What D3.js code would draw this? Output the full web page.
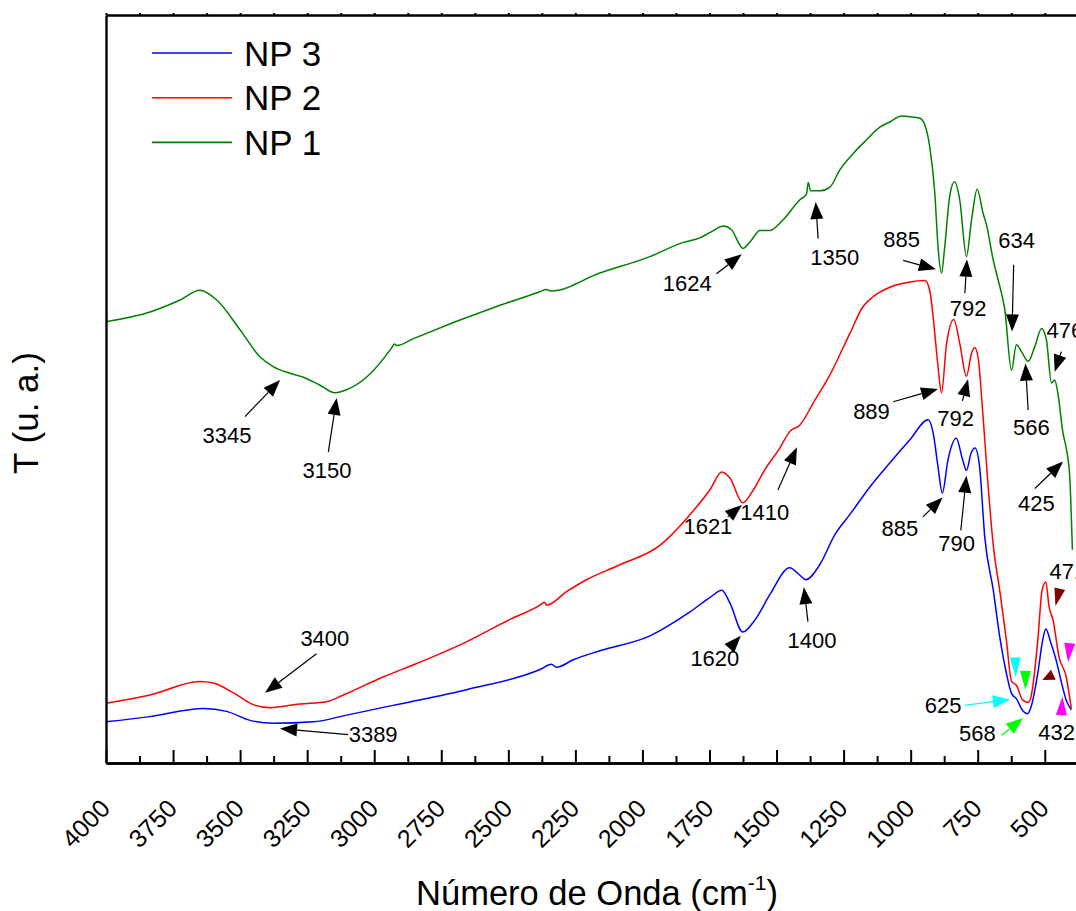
<!DOCTYPE html>
<html>
<head>
<meta charset="utf-8">
<script src="https://cdn.jsdelivr.net/npm/d3@7"></script>
<style>
  body { margin: 0; background: #fff; }
  svg { display: block; font-family: "Liberation Sans", Arial, sans-serif; }
</style>
</head>
<body>
<svg id="chart"></svg>
<script>
// FTIR spectra, [wavenumber cm-1, T (arbitrary units)]
const np1 = [[4000,59.0],[3836,60.3],[3724,61.9],[3650,63.2],[3587,61.9],[3500,57.9],[3426,54.3],[3377,53.0],[3314,52.1],[3266,51.6],[3202,50.5],[3146,49.5],[3103,49.9],[3028,51.6],[2935,55.5],[2925,56.0],[2915,55.8],[2856,56.7],[2531,61.2],[2382,63.0],[2360,63.3],[2340,63.1],[2159,65.5],[1972,67.7],[1848,69.6],[1786,70.2],[1749,70.9],[1697,71.8],[1668,71.3],[1625,68.8],[1594,69.9],[1562,71.2],[1525,71.2],[1476,72.6],[1413,75.3],[1388,76.1],[1382,77.6],[1373,76.5],[1339,76.5],[1301,77.0],[1264,79.3],[1214,81.5],[1165,83.3],[1115,85.0],[1078,85.7],[1034,86.5],[1003,86.4],[966,86.2],[947,85.3],[929,82.4],[910,76.2],[898,69.0],[885,65.5],[873,69.0],[854,75.9],[836,77.7],[817,75.3],[792,67.7],[773,72.6],[752,76.7],[730,73.5],[717,71.9],[692,67.2],[674,64.6],[649,60.6],[624,52.5],[606,55.9],[587,55.0],[562,53.7],[537,55.7],[512,58.1],[494,56.6],[475,50.8],[463,51.2],[451,49.4],[432,44.1],[420,42.1],[407,38.3],[397,28.5]];

const np2 = [[4000,8.0],[3836,9.1],[3650,10.9],[3600,10.7],[3526,9.4],[3451,7.8],[3389,7.4],[3277,7.9],[3177,8.2],[3103,9.3],[2967,11.5],[2842,13.3],[2656,16.2],[2494,19.2],[2382,21.1],[2365,21.5],[2357,21.1],[2283,22.9],[2209,24.5],[2084,26.5],[1935,29.1],[1823,33.2],[1749,36.5],[1704,38.9],[1674,38.1],[1626,34.8],[1592,36.2],[1544,39.2],[1488,42.1],[1451,44.3],[1413,45.2],[1357,48.5],[1301,51.9],[1227,57.4],[1178,61.0],[1141,62.3],[1078,63.6],[1003,64.3],[947,64.5],[929,63.2],[910,57.4],[898,53.0],[885,49.5],[866,56.1],[839,59.3],[817,56.1],[792,51.7],[773,54.8],[761,55.5],[749,54.3],[730,46.3],[712,37.4],[692,29.1],[668,23.1],[643,16.4],[624,10.9],[606,10.4],[582,8.4],[562,8.1],[551,8.9],[526,16.4],[510,23.1],[496,24.2],[484,20.9],[469,19.1],[447,14.2],[420,11.5],[401,7.3]];

const np3 = [[4000,5.5],[3836,6.2],[3637,7.3],[3550,6.9],[3463,5.7],[3376,5.3],[3227,5.5],[3103,6.4],[2904,7.9],[2656,9.8],[2382,12.5],[2339,13.2],[2320,12.8],[2258,13.8],[2159,15.0],[1972,17.0],[1823,20.2],[1749,22.1],[1704,23.1],[1674,21.4],[1626,17.5],[1581,19.1],[1525,22.5],[1451,26.1],[1413,25.1],[1391,24.5],[1339,26.5],[1283,30.5],[1227,33.2],[1152,36.9],[1078,40.1],[1003,43.2],[935,45.9],[916,44.1],[898,39.6],[882,36.1],[861,40.5],[830,43.4],[806,40.5],[792,39.1],[775,41.4],[760,42.1],[743,39.6],[724,30.3],[692,23.1],[668,16.9],[643,12.0],[624,9.3],[606,8.6],[582,7.0],[565,6.6],[551,7.5],[526,12.0],[508,16.4],[496,17.9],[477,16.0],[458,13.8],[434,10.2],[420,8.4],[401,7.1]];

const seriesNames = ["NP 3", "NP 2", "NP 1"];
const seriesColors = ["#0000ff", "#ff0000", "#008000"];
const seriesData = [np3, np2, np1];

const xMajorTicks = [4000, 3750, 3500, 3250, 3000, 2750, 2500, 2250, 2000, 1750, 1500, 1250, 1000, 750, 500];
const xMinorTicks = [3875, 3625, 3375, 3125, 2875, 2625, 2375, 2125, 1875, 1625, 1375, 1125, 875, 625, 375];

// peak labels: text, label position, arrow start, arrow tip (all in data units)
const peakLabels = ["3345", "3150", "1624", "1350", "885", "792", "634", "566", "476", "425",
                    "3400", "1621", "1410", "889", "792", "471",
                    "3389", "1620", "1400", "885", "790", "625", "568", "432"];
const labelAt = [[3549,43.9],[3176,39.2],[1833,64.1],[1283,67.6],[1034,70.1],[786,60.8],[605,69.9],[550,44.9],[425,57.9],[531,34.7],
                 [3184,16.7],[1756,31.7],[1544,33.6],[1146,47.1],[832,46.1],[414,25.6],
                 [3004,3.9],[1730,14.0],[1368,16.4],[1040,31.4],[829,29.4],[879,7.8],[751,4.0],[456,4.2]];
const arrowFrom = [[3482,46.3],[3171,41.6],[1724,65.4],[1345,70.1],[1028,67.2],[798,62.8],[616,66.6],[562,47.2],[438,55.0],[537,36.7],
                   [3215,14.6],[1682,32.9],[1495,36.5],[1065,48.3],[807,48.4],null,
                   [3097,3.8],[1674,15.4],[1383,18.9],[954,32.9],[813,31.1],[798,7.7],[661,3.7],null];
const arrowTip = [[3351,51.2],[3140,48.8],[1630,68.0],[1354,75.0],[906,66.0],[790,67.3],[622,57.7],[572,53.4],[463,52.3],[432,40.3],
                  [3407,9.4],[1629,34.5],[1424,42.2],[898,50.0],[786,51.3],null,
                  [3351,4.6],[1633,17.0],[1398,23.5],[881,35.5],[792,38.4],[630,8.5],[581,6.0],null];
const arrowColor = ["#000","#000","#000","#000","#000","#000","#000","#000","#000","#000",
                    "#000","#000","#000","#000","#000","#000",
                    "#000","#000","#000","#000","#000","#00ffff","#00ff00","#000"];

// coloured arrowheads without shafts: base, tip
const headColors = ["#00ffff", "#00ff00", "#800000", "#800000", "#ff00ff", "#ff00ff"];
const headBase = [[610,14.1],[572,12.3],[444,23.3],[468,11.8],[407,16.0],[438,6.4]];
const headTip = [[609,11.5],[572,9.8],[460,21.0],[509,11.1],[413,13.5],[434,8.9]];

const width = 1076;
const height = 911;
const marginLeft = 106;
const marginTop = 15;
const marginBottom = 148;

const svg = d3.select("#chart").attr("width", width).attr("height", height);

const x = d3.scaleLinear().domain([4000, 350]).range([marginLeft, 1085]);
const y = d3.scaleLinear().domain([0, 100]).range([height - marginBottom, marginTop]);

// spectra
const line = d3.line()
    .x(d => x(d[0]))
    .y(d => y(d[1]))
    .curve(d3.curveMonotoneX);

svg.append("g")
  .selectAll("path")
  .data(seriesData)
  .join("path")
    .attr("d", line)
    .attr("fill", "none")
    .attr("stroke", (d, i) => seriesColors[i])
    .attr("stroke-width", 1.5)
    .attr("stroke-linejoin", "round");

// axes
const axisBottom = svg.append("g")
    .attr("transform", `translate(0,${height - marginBottom})`)
    .call(d3.axisBottom(x).tickValues(xMajorTicks).tickSize(-13).tickSizeOuter(0).tickFormat(d3.format("d")));
axisBottom.selectAll("text")
    .attr("x", 0).attr("y", 0).attr("dy", 0)
    .attr("transform", "translate(5,47) rotate(-45)")
    .attr("text-anchor", "end")
    .attr("font-size", 25)
    .attr("font-family", "Liberation Sans, Arial, sans-serif")
    .attr("fill", "#000");

svg.append("g")
    .attr("transform", `translate(0,${height - marginBottom})`)
    .call(d3.axisBottom(x).tickValues(xMinorTicks).tickSize(-7).tickSizeOuter(0).tickFormat(""));

svg.append("g")
    .attr("transform", `translate(0,${marginTop})`)
    .call(d3.axisTop(x).tickValues(xMajorTicks.concat(xMinorTicks)).tickSize(2).tickSizeOuter(0).tickFormat(""));

svg.append("g")
    .attr("transform", `translate(${marginLeft},0)`)
    .call(d3.axisLeft(y).tickValues([]).tickSizeOuter(0));

svg.selectAll(".domain").attr("stroke-width", 2.4);
svg.selectAll(".tick line").attr("stroke-width", 2);

// axis titles
const xTitle = svg.append("text")
    .attr("x", 597)
    .attr("y", 905)
    .attr("text-anchor", "middle")
    .attr("font-size", 34.5);
xTitle.append("tspan").text("Número de Onda (cm");
xTitle.append("tspan").attr("dy", -15).attr("font-size", 21).text("-1");
xTitle.append("tspan").attr("dy", 15).text(")");

svg.append("text")
    .attr("transform", "translate(38,413) rotate(-90)")
    .attr("text-anchor", "middle")
    .attr("font-size", 35)
    .text("T (u. a.)");

// legend
const legend = svg.append("g")
  .selectAll("g")
  .data(seriesNames)
  .join("g")
    .attr("transform", (d, i) => `translate(152,${53 + i * 44.7})`);
legend.append("line")
    .attr("x1", 0).attr("x2", 80)
    .attr("stroke", (d, i) => seriesColors[i])
    .attr("stroke-width", 1.6);
legend.append("text")
    .attr("x", 92)
    .attr("dy", "0.36em")
    .attr("font-size", 35)
    .text(d => d);

// annotations
function arrow(g, x1, y1, x2, y2, color, len, half, shaft) {
  const dx = x2 - x1, dy = y2 - y1;
  const d = Math.hypot(dx, dy);
  const ux = dx / d, uy = dy / d;
  const bx = x2 - ux * len, by = y2 - uy * len;
  if (shaft && d > len) {
    g.append("line")
        .attr("x1", x1).attr("y1", y1).attr("x2", bx).attr("y2", by)
        .attr("stroke", color).attr("stroke-width", 1.2);
  }
  g.append("path")
      .attr("d", `M${x2},${y2}L${bx - uy * half},${by + ux * half}L${bx + uy * half},${by - ux * half}Z`)
      .attr("fill", color);
}

const notes = svg.append("g");
peakLabels.forEach((label, i) => {
  notes.append("text")
      .attr("x", x(labelAt[i][0]))
      .attr("y", y(labelAt[i][1]))
      .attr("dy", "0.36em")
      .attr("text-anchor", "middle")
      .attr("font-size", 22)
      .text(label);
  if (arrowFrom[i]) {
    arrow(notes, x(arrowFrom[i][0]), y(arrowFrom[i][1]), x(arrowTip[i][0]), y(arrowTip[i][1]),
          arrowColor[i], 17, 6.5, true);
  }
});

headColors.forEach((c, i) => {
  arrow(notes, x(headBase[i][0]), y(headBase[i][1]), x(headTip[i][0]), y(headTip[i][1]), c,
        Math.hypot(x(headTip[i][0]) - x(headBase[i][0]), y(headTip[i][1]) - y(headBase[i][1])), 5.5, false);
});
</script>
</body>
</html>
